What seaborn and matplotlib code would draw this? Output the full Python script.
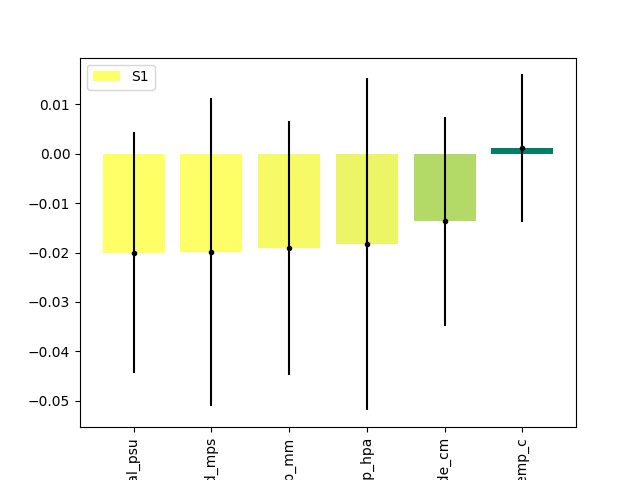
import numpy as np
import pandas as pd
import matplotlib
matplotlib.use("Agg")
import matplotlib.pyplot as plt
import seaborn as sns

# values
features = ["salinity_total_psu", "wind_speed_mps", "precip_mm",
            "sea_level_p_hpa", "tide_amplitude_cm", "water_temp_c"]
s1_values = [-0.0200, -0.0199, -0.0191, -0.0183, -0.0137, 0.0011]
s1_errors = [0.0244, 0.0312, 0.0257, 0.0337, 0.0211, 0.0150]

df = pd.DataFrame({"feature": features, "value": s1_values, "err": s1_errors})

# colour by value, reversed summer map (most negative -> yellow)
norm = plt.Normalize(min(s1_values), max(s1_values))
colors = [plt.cm.summer_r(norm(v)) for v in s1_values]

fig, ax = plt.subplots(figsize=(6.4, 4.8), dpi=100)
sns.barplot(data=df, x="feature", y="value", hue="feature",
            palette=colors, saturation=1, width=0.8, legend=False, ax=ax)
ax.errorbar(np.arange(len(features)), df["value"], yerr=df["err"],
            fmt="o", color="black", markersize=3, elinewidth=1.5)

ax.set_xlim(-0.69, len(features) - 0.31)
ax.set_xlabel("")
ax.set_ylabel("")
ax.tick_params(axis="x", rotation=90)
ax.legend(handles=[ax.patches[0]], labels=["S1"], loc="upper left")

fig.savefig("out.png", dpi=100)
